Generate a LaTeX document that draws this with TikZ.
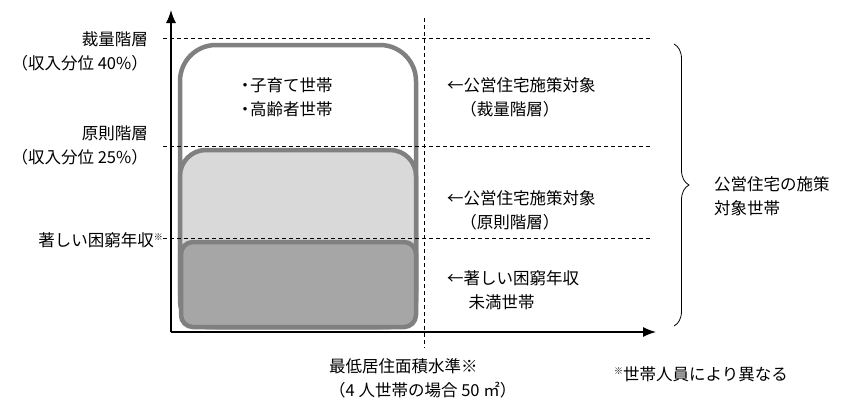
\documentclass[tikz,border=0pt]{standalone}
\usepackage{fontspec}
\setmainfont{Noto Sans CJK JP}
\usetikzlibrary{arrows.meta,decorations.pathreplacing}

\newcommand{\mydot}{\makebox[0.6em][c]{・}}
\newcommand{\smallmark}{\raisebox{0.6ex}{\fontsize{9}{9}\selectfont ※}}

\begin{document}
\begin{tikzpicture}[x=1pt, y=-1pt, every node/.style={font=\fontsize{16.5}{24}\selectfont, inner sep=0pt, align=left}]
      % layers of households by income
      \useasboundingbox (0,0) rectangle (853,400);
      \tikzset{
        layerbox/.style={draw=black!50, line width=4.5pt},
        guide/.style={dash pattern=on 4pt off 3pt, line width=0.6pt}
      }
      \coordinate (o) at (171,332);
      \coordinate (ytip) at (171,10);
      \coordinate (xtip) at (656,332);
      \coordinate (l1) at (163,38);
      \coordinate (r1) at (652,38);
      \coordinate (l2) at (163,146);
      \coordinate (r2) at (652,146);
      \coordinate (l3) at (163,238);
      \coordinate (r3) at (652,238);
      \coordinate (vtop) at (424,18);
      \coordinate (vbot) at (424,348);
      \coordinate (btop) at (674,44);
      \coordinate (bbot) at (674,326);

      \draw[layerbox, fill=white, rounded corners=36pt] (180,45) rectangle (416,327);
      \draw[layerbox, fill=black!15, rounded corners=26pt] (180,150) rectangle (416,327);
      \draw[layerbox, fill=black!35, rounded corners=12pt] (181,242) rectangle (416,327);

      \draw[guide] (l1) -- (r1);
      \draw[guide] (l2) -- (r2);
      \draw[guide] (l3) -- (r3);
      \draw[guide] (vtop) -- (vbot);

      \draw[line width=1.3pt, -{Latex[length=13pt,width=10pt]}] (o) -- (ytip);
      \draw[line width=1.3pt, -{Latex[length=13pt,width=10pt]}] (o) -- (xtip);

      \draw[line width=0.8pt, decorate, decoration={brace, amplitude=15pt}] (btop) -- (bbot);

      \node[anchor=north east, align=right] (top) at (148,31) {裁量階層\\（収入分位 40\%）};
      \node[anchor=north east, align=right] (mid) at (148,126) {原則階層\\（収入分位 25\%）};
      \node[anchor=east] (low) at (163,240) {著しい困窮年収\smallmark};

      \node[anchor=north west] (kinds) at (240,77) {\mydot 子育て世帯\\\mydot 高齢者世帯};

      \node[anchor=north west] (t1) at (447,77) {←公営住宅施策対象\\\hspace*{0.8em}（裁量階層）};
      \node[anchor=north west] (t2) at (447,190) {←公営住宅施策対象\\\hspace*{0.8em}（原則階層）};
      \node[anchor=north west] (t3) at (447,270) {←著しい困窮年収\\\hspace*{1.3em}未満世帯};

      \node[anchor=north west] (all) at (714,176) {公営住宅の施策\\対象世帯};

      \node[anchor=north west] (area) at (329,358) {最低居住面積水準※\\（4 人世帯の場合 50 ㎡）};
      \node[anchor=north west] (note) at (614,366) {\smallmark 世帯人員により異なる};
    \end{tikzpicture}
\end{document}
